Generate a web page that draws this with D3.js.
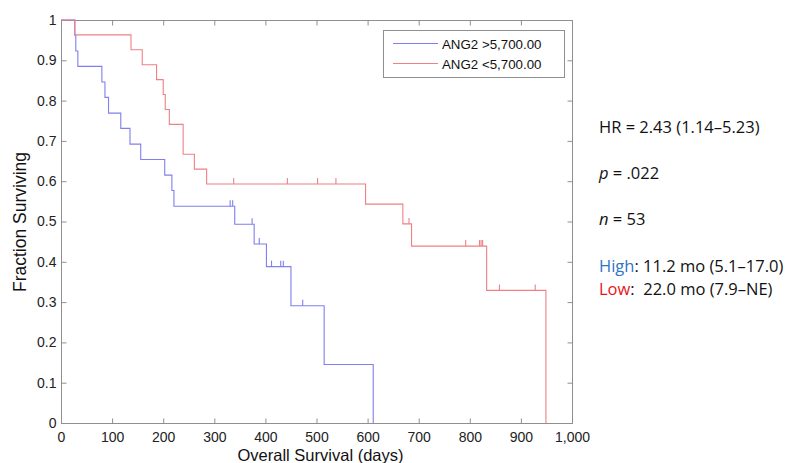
<!DOCTYPE html>
<html>
<head>
<meta charset="utf-8">
<script src="https://cdn.jsdelivr.net/npm/d3@7"></script>
<style>
	body { margin: 0; background: #fff; }
	svg { display: block; }
</style>
</head>
<body>
<svg id="chart" width="794" height="463"></svg>
<script>
// Kaplan-Meier steps (days, fraction surviving)
var highTimes = [0, 27, 29, 33, 80, 86, 93, 117, 135, 156, 203, 217, 221, 340, 378, 402, 450, 515, 611];
var highSurv = [1, 0.962, 0.923, 0.885, 0.846, 0.808, 0.769, 0.731, 0.692, 0.654, 0.615, 0.577, 0.538, 0.493, 0.444, 0.388, 0.291, 0.145, 0];
var highCensored = [331, 336, 374, 388, 412, 430, 435, 473];

var lowTimes = [0, 27, 137, 159, 187, 200, 204, 212, 239, 261, 285, 596, 669, 686, 833, 949];
var lowSurv = [1, 0.963, 0.926, 0.889, 0.852, 0.815, 0.778, 0.741, 0.667, 0.630, 0.593, 0.543, 0.494, 0.439, 0.329, 0];
var lowCensored = [338, 443, 502, 538, 681, 792, 819, 822, 825, 858, 928];

var seriesNames = ["ANG2 >5,700.00", "ANG2 <5,700.00"];
var xTicks = [0, 100, 200, 300, 400, 500, 600, 700, 800, 900, 1000];
var yTicks = [0, 0.1, 0.2, 0.3, 0.4, 0.5, 0.6, 0.7, 0.8, 0.9, 1];

var notes = [
	["HR = 2.43 (1.14\u20135.23)"],
	["p", " = .022"],
	["n", " = 53"]
];
var medians = [
	["High", ": 11.2 mo (5.1\u201317.0)"],
	["Low", ":  22.0 mo (7.9\u2013NE)"]
];

var svg = d3.select("#chart");
var plotLeft = 61, plotRight = 572, plotTop = 20, plotBottom = 423;
var frameColor = "#8f8f8f";
var blue = "#7f7ff0", red = "#f07f86";
var seriesColors = [blue, red];

var x = d3.scaleLinear().domain([0, 1000]).range([plotLeft, plotRight]);
var y = d3.scaleLinear().domain([0, 1]).range([plotBottom, plotTop]);

var fmtX = function(d) { return d3.format(",")(d); };
var fmtY = function(d) { return d === 0 || d === 1 ? String(d) : d3.format(".1f")(d); };

// frame + inward ticks on all four sides
svg.append("rect")
	.attr("x", plotLeft + 0.5).attr("y", plotTop + 0.5)
	.attr("width", plotRight - plotLeft).attr("height", plotBottom - plotTop)
	.attr("fill", "none").attr("stroke", frameColor);

function styleAxis(g)
{
	g.select(".domain").remove();
	g.selectAll(".tick line").attr("stroke", frameColor);
	g.selectAll(".tick text")
		.attr("fill", "#222")
		.attr("font-family", "Liberation Sans, Arial, sans-serif")
		.attr("font-size", "14px");
}

svg.append("g")
	.attr("transform", "translate(0," + (plotBottom + 0.5) + ")")
	.call(d3.axisBottom(x).tickValues(xTicks).tickFormat(fmtX).tickSizeInner(-5).tickSizeOuter(0).tickPadding(8.5))
	.call(styleAxis);
svg.append("g")
	.attr("transform", "translate(0," + (plotTop + 0.5) + ")")
	.call(d3.axisTop(x).tickValues(xTicks).tickFormat("").tickSizeInner(-5).tickSizeOuter(0))
	.call(styleAxis);
svg.append("g")
	.attr("transform", "translate(" + (plotLeft + 0.5) + ",0)")
	.call(d3.axisLeft(y).tickValues(yTicks).tickFormat(fmtY).tickSizeInner(-5).tickSizeOuter(0).tickPadding(5))
	.call(styleAxis);
svg.append("g")
	.attr("transform", "translate(" + (plotRight + 0.5) + ",0)")
	.call(d3.axisRight(y).tickValues(yTicks).tickFormat("").tickSizeInner(-5).tickSizeOuter(0))
	.call(styleAxis);

// axis titles
svg.append("text")
	.text("Overall Survival (days)")
	.attr("x", (plotLeft + plotRight) / 2 + 4)
	.attr("y", 461)
	.attr("text-anchor", "middle")
	.attr("fill", "#111")
	.attr("font-family", "Liberation Sans, Arial, sans-serif")
	.attr("font-size", "16.5px");
svg.append("text")
	.text("Fraction Surviving")
	.attr("transform", "translate(26,222) rotate(-90)")
	.attr("text-anchor", "middle")
	.attr("fill", "#111")
	.attr("font-family", "Liberation Sans, Arial, sans-serif")
	.attr("font-size", "17.5px");

// survival curves
var step = d3.line()
	.x(function(d) { return x(d[0]); })
	.y(function(d) { return y(d[1]); })
	.curve(d3.curveStepAfter);

var groups = [
	{times: highTimes, surv: highSurv, cens: highCensored, color: blue},
	{times: lowTimes, surv: lowSurv, cens: lowCensored, color: red}
];

groups.forEach(function(g)
{
	var pts = g.times.map(function(t, i) { return [t, g.surv[i]]; });
	svg.append("path")
		.attr("d", step(pts))
		.attr("fill", "none")
		.attr("stroke", g.color)
		.attr("stroke-width", 1.1);

	svg.selectAll(null).data(g.cens).enter().append("line")
		.attr("x1", function(d) { return x(d); })
		.attr("x2", function(d) { return x(d); })
		.attr("y1", function(d)
		{
			var i = d3.bisectRight(g.times, d) - 1;
			return y(g.surv[i]);
		})
		.attr("y2", function(d)
		{
			var i = d3.bisectRight(g.times, d) - 1;
			return y(g.surv[i]) - 6;
		})
		.attr("stroke", g.color)
		.attr("stroke-width", 1.1);
});

// legend
var legend = svg.append("g").attr("transform", "translate(383,30)");
legend.append("rect")
	.attr("x", 0.5).attr("y", 0.5)
	.attr("width", 181).attr("height", 47)
	.attr("fill", "#fff").attr("stroke", frameColor);
seriesNames.forEach(function(name, i)
{
	var row = legend.append("g").attr("transform", "translate(0," + (13.5 + 20 * i) + ")");
	row.append("line")
		.attr("x1", 10).attr("x2", 55)
		.attr("stroke", seriesColors[i])
		.attr("stroke-width", 1.1);
	row.append("text")
		.text(name)
		.attr("x", 59).attr("y", 5)
		.attr("fill", "#111")
		.attr("font-family", "Liberation Sans, Arial, sans-serif")
		.attr("font-size", "13.3px");
});

// statistics text on the right
var noteFont = "'Open Sans', Lato, sans-serif";
var noteY = [132.5, 179, 225];
notes.forEach(function(n, i)
{
	var t = svg.append("text")
		.attr("x", 599).attr("y", noteY[i])
		.attr("fill", "#111")
		.attr("font-family", noteFont)
		.attr("font-size", "16.5px");
	t.append("tspan").text(n[0]).attr("font-style", n.length > 1 ? "italic" : null);
	if (n.length > 1) t.append("tspan").text(n[1]);
});

var medColors = ["#2e75c6", "#e8141b"];
medians.forEach(function(m, i)
{
	var t = svg.append("text")
		.attr("x", 599).attr("y", 272 + 23 * i)
		.attr("fill", "#111")
		.attr("font-family", noteFont)
		.attr("font-size", "16.5px")
		.style("white-space", "pre");
	t.append("tspan").text(m[0]).attr("fill", medColors[i]);
	t.append("tspan").text(m[1]);
});
</script>
</body>
</html>
